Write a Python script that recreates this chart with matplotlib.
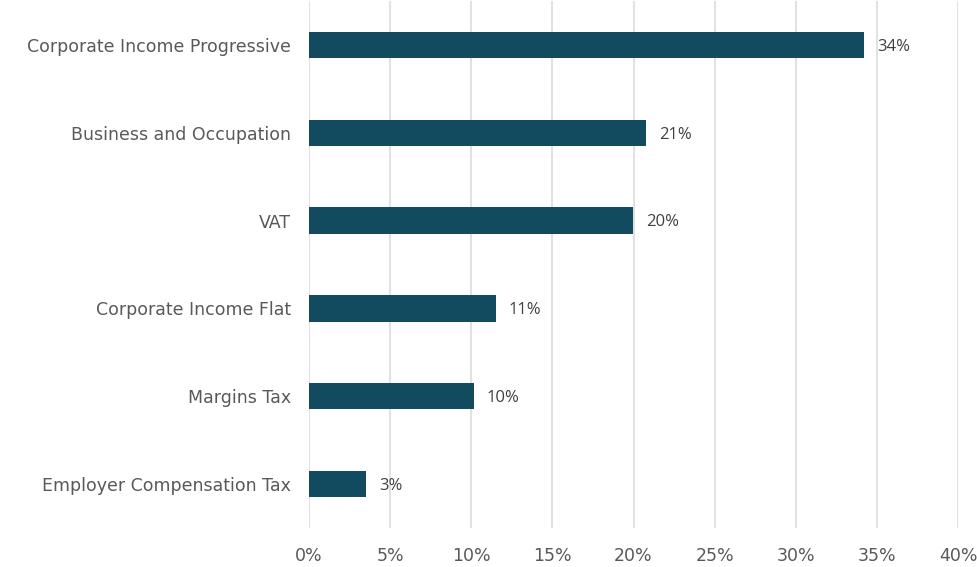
import numpy as np
import matplotlib.pyplot as plt
from matplotlib.ticker import FuncFormatter

# data (top to bottom)
categories = ['Corporate Income Progressive', 'Business and Occupation', 'VAT',
              'Corporate Income Flat', 'Margins Tax', 'Employer Compensation Tax']
shares = [34.2, 20.8, 19.95, 11.5, 10.15, 3.5]
labels = ['34%', '21%', '20%', '11%', '10%', '3%']
xticks = [0, 5, 10, 15, 20, 25, 30, 35, 40]

fig = plt.figure(figsize=(9.77, 5.67), dpi=100)
ax = fig.add_axes([309/977, 39/567, 649/977, 527/567])

ypos = np.arange(len(categories))
ax.barh(ypos, shares, height=0.3, color='#124B5F', zorder=3)
ax.set_ylim(len(categories) - 0.5, -0.5)
ax.set_xlim(0, 40)

# value labels just past bar ends
for y, v, lab in zip(ypos, shares, labels):
    ax.text(v + 0.8, y + 0.02, lab, va='center', ha='left',
            fontsize=12, color='#404040', family='Open Sans')

ax.set_xticks(xticks)
ax.xaxis.set_major_formatter(FuncFormatter(lambda x, p: '%d%%' % x))
ax.set_yticks(ypos)
ax.set_yticklabels(categories)
ax.grid(axis='x', color='#d9d9d9', linewidth=1.1, zorder=0)
ax.tick_params(axis='both', length=0, labelcolor='#595959')
ax.tick_params(axis='y', pad=13, labelsize=12.5)
ax.tick_params(axis='x', pad=14, labelsize=12.5)
for lab in ax.get_yticklabels():
    lab.set_family('DejaVu Sans')
for lab in ax.get_xticklabels():
    lab.set_family('DejaVu Sans')
for s in ax.spines.values():
    s.set_visible(False)

fig.savefig('out.png', dpi=100)
